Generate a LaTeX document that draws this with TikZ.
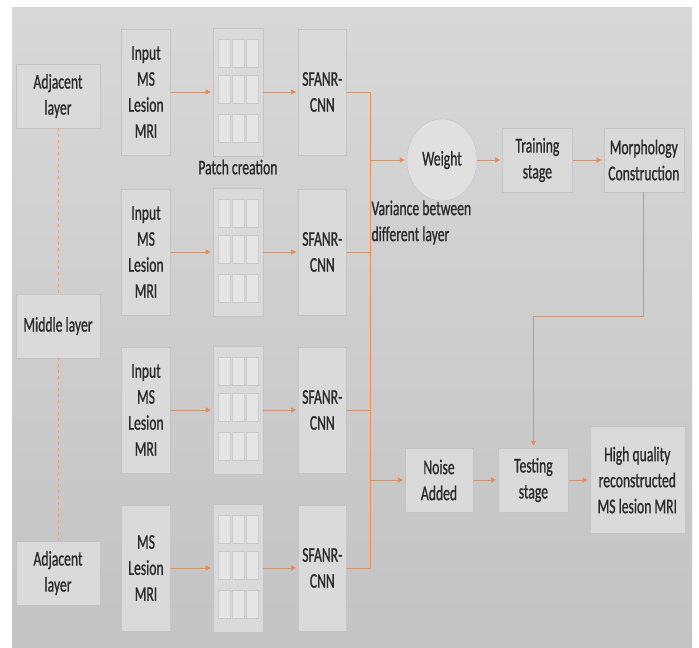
\documentclass[tikz,border=0pt]{standalone}
\usepackage{fontspec}
\setmainfont{Carlito}[FakeStretch=0.65, FakeBold=0.8]
\usetikzlibrary{arrows.meta,positioning,shapes.geometric}

\definecolor{panelTop}{HTML}{D8D8D8}
\definecolor{panelBot}{HTML}{C3C3C3}
\definecolor{boxFill}{HTML}{DADADA}
\definecolor{boxEdge}{HTML}{C4C4C4}
\definecolor{flow}{HTML}{EE8B4E}
\definecolor{txt}{HTML}{2A2A2A}

\begin{document}
\begin{tikzpicture}[
    x=1pt, y=-1pt,
    font=\fontsize{21}{26}\selectfont,
    block/.style={draw=boxEdge, fill=boxFill, text=txt, align=center, inner sep=2pt},
    layerbox/.style={block, minimum width=84pt, minimum height=64pt},
    inbox/.style={block, minimum width=49pt, minimum height=126pt},
    patchbox/.style={block, minimum width=50pt, minimum height=128pt},
    cnnbox/.style={block, minimum width=48pt, minimum height=126pt},
    stagebox/.style={block, minimum width=70pt, minimum height=64pt},
    cell/.style={draw=boxEdge!90!white, fill=boxFill!70!white},
    wire/.style={flow, line width=1pt},
    line/.style={wire, -{Triangle[length=5pt,width=5pt]}, shorten >=2pt},
    link/.style={flow!70!boxFill, dashed, line width=1pt}
]
    \useasboundingbox (0,0) rectangle (699,648);
    \fill[top color=panelTop, bottom color=panelBot] (12,7) rectangle (692,648);

    % slices
    \node[layerbox] (adjtop) at (58,96) {Adjacent\\layer};
    \node[layerbox] (middle) at (58,326) {Middle layer};
    \node[layerbox] (adjbot) at (58,573) {Adjacent\\layer};

    % four input rows
    \node[inbox] (mri1) at (146,92) {Input\\MS\\Lesion\\MRI};
    \node[inbox] (mri2) at (146,252) {Input\\MS\\Lesion\\MRI};
    \node[inbox] (mri3) at (146,410) {Input\\MS\\Lesion\\MRI};
    \node[inbox] (mri4) at (146,568) {MS\\Lesion\\MRI};

    \node[patchbox, right=42pt of mri1] (patch1) {};
    \node[patchbox, right=42pt of mri2] (patch2) {};
    \node[patchbox, right=42pt of mri3] (patch3) {};
    \node[patchbox, right=42pt of mri4] (patch4) {};
    \node[text=txt, below=0pt of patch1] (patchlbl) {Patch creation};

    \node[cnnbox, right=35pt of patch1] (cnn1) {SFANR-\\CNN};
    \node[cnnbox, right=35pt of patch2] (cnn2) {SFANR-\\CNN};
    \node[cnnbox, right=35pt of patch3] (cnn3) {SFANR-\\CNN};
    \node[cnnbox, right=35pt of patch4] (cnn4) {SFANR-\\CNN};

    \foreach \p in {patch1,patch2,patch3,patch4}
        \foreach \r in {-39,-3,36}
            \foreach \c in {-14,0,14}
                \draw[cell] ([shift={(\c-6,\r-14)}]\p.center) rectangle ++(12,28);

    % training branch
    \node[block, ellipse, fill=boxFill!85!white, minimum width=70pt, minimum height=82pt] (weight) at (442,160) {Weight};
    \node[text=txt, align=left, anchor=north west] (varlbl) at (368,197) {Variance between\\different layer};
    \node[stagebox, right=25pt of weight] (train) {Training\\stage};
    \node[stagebox, minimum width=80pt, right=31pt of train] (morph) {Morphology\\Construction};

    % testing branch
    \node[stagebox, minimum width=68pt] (noise) at (439,480) {Noise\\Added};
    \node[stagebox, right=25pt of noise] (test) {Testing\\stage};
    \node[block, minimum width=95pt, minimum height=107pt, right=21pt of test] (hq) {High quality\\reconstructed\\MS lesion MRI};

    \draw[link] (adjtop) -- (middle);
    \draw[link] (middle) -- (adjbot);

    \draw[line] (mri1) -- (patch1);
    \draw[line] (mri2) -- (patch2);
    \draw[line] (mri3) -- (patch3);
    \draw[line] (mri4) -- (patch4);
    \draw[line] (patch1) -- (cnn1);
    \draw[line] (patch2) -- (cnn2);
    \draw[line] (patch3) -- (cnn3);
    \draw[line] (patch4) -- (cnn4);

    \coordinate (bustop) at (370,92);
    \coordinate (busbot) at (370,568);
    \draw[wire] (cnn1.east) -- (bustop) -- (busbot) -- (cnn4.east);
    \draw[wire] (cnn2.east) -- (cnn2.east -| bustop);
    \draw[wire] (cnn3.east) -- (cnn3.east -| bustop);
    \draw[line] (bustop |- weight.west) -- (weight.west);
    \draw[line] (bustop |- noise.west) -- (noise.west);

    \draw[line] (weight) -- (train);
    \draw[line] (train) -- (morph);
    \draw[line] (morph.south) -- ++(0,124) -| (test.north);
    \draw[line] (noise) -- (test);
    \draw[line] (test) -- (hq);
\end{tikzpicture}
\end{document}
